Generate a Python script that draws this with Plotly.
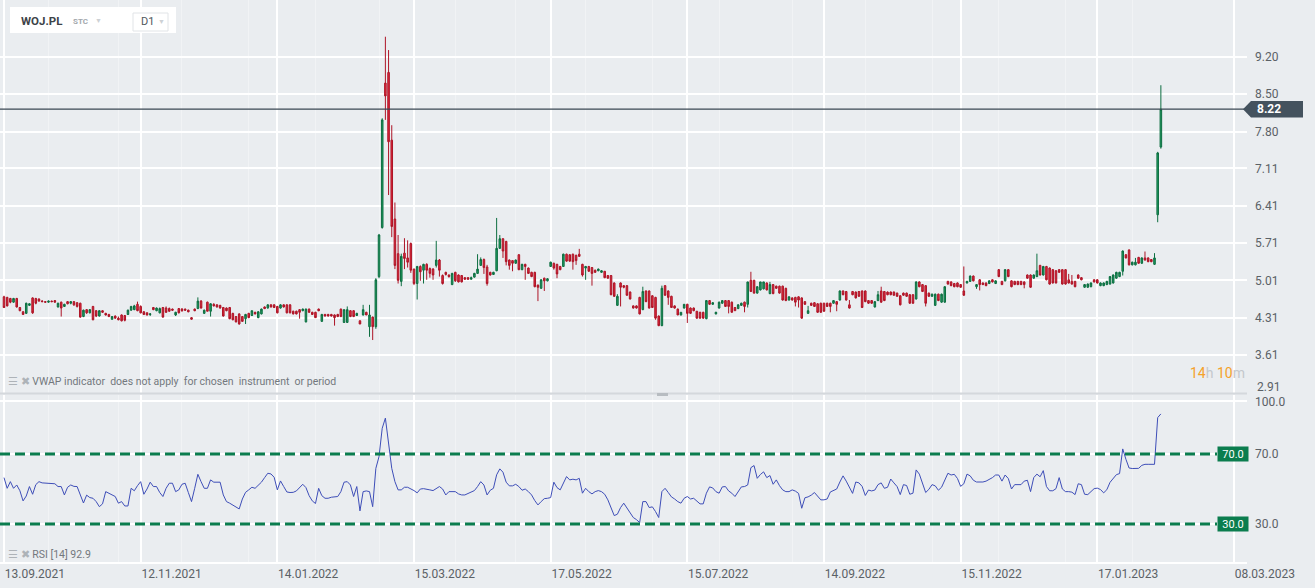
import plotly.graph_objects as go
from plotly.subplots import make_subplots

TICKER = "WOJ.PL"
LAST_PRICE = 8.22
RSI_LAST = 92.9

# daily candles, 13.09.2021 -> mid Feb 2023 (index = trading day)
OPEN = [
    4.70, 4.69, 4.67, 4.60, 4.67, 4.50, 4.42, 4.39, 4.54, 4.68,
    4.67, 4.66, 4.62, 4.61, 4.60, 4.62, 4.63, 4.51, 4.60, 4.52,
    4.61, 4.58, 4.61, 4.59, 4.58, 4.33, 4.46, 4.40, 4.52, 4.44,
    4.34, 4.44, 4.39, 4.37, 4.28, 4.34, 4.30, 4.36, 4.35, 4.37,
    4.45, 4.46, 4.56, 4.52, 4.42, 4.40, 4.37, 4.50, 4.44, 4.40,
    4.50, 4.49, 4.48, 4.47, 4.36, 4.48, 4.47, 4.47, 4.45, 4.31,
    4.47, 4.48, 4.62, 4.39, 4.60, 4.43, 4.56, 4.55, 4.54, 4.50,
    4.49, 4.50, 4.39, 4.33, 4.38, 4.33, 4.29, 4.39, 4.35, 4.41,
    4.31, 4.38, 4.51, 4.49, 4.55, 4.55, 4.52, 4.49, 4.55, 4.55,
    4.55, 4.43, 4.43, 4.46, 4.44, 4.23, 4.47, 4.41, 4.41, 4.47,
    4.24, 4.37, 4.37, 4.37, 4.36, 4.37, 4.47, 4.22, 4.22, 4.44,
    4.44, 4.35, 4.25, 4.36, 4.41, 4.14, 4.32, 4.14, 5.08, 6.00,
    8.71, 8.91, 7.64, 6.16, 5.51, 4.99, 5.52, 5.43, 5.70, 5.22,
    4.95, 5.27, 5.20, 5.31, 5.23, 5.22, 5.29, 5.39, 5.10, 5.16,
    5.11, 4.93, 5.16, 5.11, 5.10, 5.06, 5.06, 5.03, 5.07, 5.14,
    5.29, 5.40, 5.26, 5.16, 5.12, 5.19, 5.61, 5.79, 5.74, 5.39,
    5.38, 5.33, 5.49, 5.21, 5.31, 5.24, 5.16, 5.16, 4.92, 4.86,
    5.05, 5.00, 5.27, 5.33, 5.31, 5.27, 5.27, 5.50, 5.49, 5.50,
    5.48, 5.50, 5.31, 5.24, 5.27, 5.25, 5.20, 5.19, 5.16, 5.18,
    5.10, 5.10, 4.96, 4.54, 4.96, 4.91, 4.91, 4.79, 4.53, 4.53,
    4.69, 4.46, 4.81, 4.81, 4.72, 4.69, 4.34, 4.16, 4.91, 4.81,
    4.71, 4.53, 4.47, 4.36, 4.49, 4.56, 4.49, 4.49, 4.43, 4.41,
    4.41, 4.29, 4.63, 4.56, 4.38, 4.49, 4.58, 4.63, 4.63, 4.60,
    4.50, 4.48, 4.54, 4.60, 4.56, 5.01, 5.01, 4.77, 4.83, 4.85,
    4.96, 4.76, 4.93, 4.90, 4.90, 4.90, 4.86, 4.64, 4.68, 4.69,
    4.70, 4.68, 4.61, 4.39, 4.58, 4.59, 4.57, 4.58, 4.58, 4.58,
    4.58, 4.58, 4.61, 4.64, 4.81, 4.80, 4.55, 4.80, 4.79, 4.80,
    4.81, 4.81, 4.63, 4.63, 4.51, 4.63, 4.81, 4.80, 4.79, 4.79,
    4.79, 4.77, 4.72, 4.77, 4.77, 4.74, 4.74, 4.66, 4.98, 4.93,
    4.91, 4.77, 4.71, 4.54, 4.75, 4.60, 4.60, 4.99, 4.98, 4.95,
    4.96, 4.93, 4.81, 4.96, 4.99, 5.09, 4.89, 5.02, 4.96, 4.96,
    4.95, 5.02, 4.95, 5.21, 4.99, 5.00, 5.21, 5.00, 4.99, 4.99,
    4.99, 4.98, 5.11, 5.11, 5.05, 5.08, 5.29, 5.11, 5.27, 5.24,
    5.21, 5.19, 5.21, 5.21, 5.21, 5.02, 4.99, 4.99, 5.11, 5.06,
    4.88, 4.88, 4.89, 5.02, 5.02, 4.91, 4.91, 4.93, 4.94, 4.96,
    5.05, 5.08, 5.18, 5.49, 5.58, 5.30, 5.30, 5.44, 5.33, 5.43,
    5.43, 5.40, 5.31, 6.24, 7.51,
]
HIGH = [
    4.72, 4.70, 4.68, 4.68, 4.68, 4.51, 4.43, 4.59, 4.58, 4.69,
    4.68, 4.67, 4.64, 4.62, 4.63, 4.63, 4.64, 4.59, 4.61, 4.57,
    4.62, 4.62, 4.62, 4.60, 4.59, 4.46, 4.47, 4.47, 4.53, 4.45,
    4.45, 4.45, 4.40, 4.38, 4.34, 4.35, 4.33, 4.37, 4.36, 4.46,
    4.53, 4.55, 4.61, 4.54, 4.43, 4.41, 4.39, 4.51, 4.50, 4.50,
    4.51, 4.52, 4.50, 4.48, 4.42, 4.49, 4.49, 4.48, 4.46, 4.32,
    4.48, 4.69, 4.64, 4.46, 4.61, 4.58, 4.58, 4.56, 4.55, 4.51,
    4.50, 4.51, 4.40, 4.34, 4.39, 4.34, 4.38, 4.40, 4.44, 4.42,
    4.43, 4.48, 4.52, 4.56, 4.56, 4.56, 4.53, 4.56, 4.56, 4.56,
    4.56, 4.44, 4.44, 4.47, 4.48, 4.48, 4.48, 4.42, 4.42, 4.48,
    4.38, 4.38, 4.38, 4.38, 4.37, 4.38, 4.48, 4.46, 4.52, 4.45,
    4.45, 4.40, 4.26, 4.55, 4.42, 4.55, 4.33, 5.05, 5.88, 8.05,
    9.58, 9.33, 7.92, 6.47, 5.86, 5.51, 5.80, 5.76, 5.72, 5.23,
    5.28, 5.29, 5.32, 5.33, 5.25, 5.24, 5.75, 5.41, 5.12, 5.17,
    5.12, 5.15, 5.17, 5.12, 5.11, 5.07, 5.07, 5.08, 5.15, 5.50,
    5.44, 5.42, 5.30, 5.17, 5.17, 6.18, 5.86, 5.80, 5.75, 5.40,
    5.38, 5.40, 5.50, 5.32, 5.32, 5.25, 5.17, 5.17, 4.93, 5.03,
    5.06, 5.05, 5.36, 5.34, 5.32, 5.28, 5.51, 5.51, 5.50, 5.51,
    5.49, 5.60, 5.32, 5.28, 5.28, 5.26, 5.21, 5.23, 5.20, 5.18,
    5.11, 5.11, 4.97, 4.75, 4.97, 4.92, 4.92, 4.80, 4.54, 4.54,
    4.70, 4.89, 4.82, 4.82, 4.73, 4.70, 4.35, 4.91, 4.92, 4.82,
    4.72, 4.54, 4.48, 4.41, 4.56, 4.57, 4.50, 4.50, 4.43, 4.42,
    4.42, 4.64, 4.64, 4.60, 4.42, 4.61, 4.63, 4.64, 4.64, 4.61,
    4.51, 4.56, 4.59, 4.61, 4.98, 5.17, 5.02, 4.90, 4.98, 4.98,
    4.97, 4.98, 4.94, 4.91, 4.91, 4.91, 4.87, 4.71, 4.69, 4.70,
    4.71, 4.69, 4.62, 4.53, 4.59, 4.60, 4.58, 4.59, 4.59, 4.59,
    4.59, 4.63, 4.62, 4.82, 4.82, 4.81, 4.64, 4.81, 4.80, 4.81,
    4.82, 4.82, 4.64, 4.64, 4.62, 4.81, 4.89, 4.81, 4.80, 4.80,
    4.80, 4.78, 4.73, 4.78, 4.78, 4.75, 4.75, 4.99, 4.99, 4.94,
    4.92, 4.78, 4.76, 4.76, 4.76, 4.76, 4.90, 5.00, 4.99, 4.96,
    4.97, 4.94, 5.27, 5.00, 5.10, 5.10, 4.94, 5.03, 4.97, 4.97,
    5.01, 5.03, 5.01, 5.22, 5.00, 5.22, 5.22, 5.01, 5.00, 5.00,
    5.00, 4.99, 5.12, 5.12, 5.12, 5.51, 5.30, 5.28, 5.28, 5.25,
    5.22, 5.20, 5.22, 5.22, 5.22, 5.13, 5.11, 5.00, 5.12, 5.07,
    4.94, 4.95, 4.97, 5.03, 5.03, 4.97, 4.97, 5.00, 5.09, 5.12,
    5.17, 5.17, 5.57, 5.50, 5.59, 5.36, 5.43, 5.45, 5.44, 5.55,
    5.44, 5.41, 5.52, 7.42, 8.67,
]
LOW = [
    4.49, 4.52, 4.58, 4.59, 4.50, 4.43, 4.36, 4.38, 4.53, 4.38,
    4.56, 4.61, 4.60, 4.59, 4.59, 4.60, 4.59, 4.50, 4.33, 4.51,
    4.56, 4.56, 4.53, 4.50, 4.31, 4.32, 4.38, 4.39, 4.26, 4.32,
    4.33, 4.40, 4.35, 4.32, 4.27, 4.29, 4.26, 4.24, 4.24, 4.36,
    4.44, 4.45, 4.43, 4.39, 4.36, 4.35, 4.34, 4.45, 4.43, 4.39,
    4.31, 4.40, 4.42, 4.44, 4.34, 4.39, 4.42, 4.44, 4.41, 4.27,
    4.43, 4.47, 4.48, 4.38, 4.43, 4.33, 4.52, 4.50, 4.48, 4.33,
    4.43, 4.28, 4.26, 4.22, 4.18, 4.23, 4.19, 4.30, 4.34, 4.37,
    4.30, 4.37, 4.47, 4.48, 4.50, 4.49, 4.39, 4.48, 4.50, 4.39,
    4.39, 4.37, 4.37, 4.29, 4.43, 4.22, 4.40, 4.36, 4.31, 4.43,
    4.23, 4.33, 4.33, 4.33, 4.16, 4.32, 4.32, 4.21, 4.21, 4.32,
    4.32, 4.34, 4.19, 4.35, 4.36, 3.95, 3.89, 4.10, 5.05, 5.98,
    8.02, 6.61, 5.82, 5.22, 4.95, 4.90, 5.22, 5.25, 5.15, 4.92,
    4.65, 5.00, 4.95, 5.02, 5.06, 5.02, 5.25, 5.08, 4.93, 5.10,
    5.06, 4.92, 4.98, 4.97, 4.97, 5.02, 5.02, 5.03, 5.06, 5.13,
    5.28, 5.13, 4.91, 5.10, 5.11, 5.18, 5.60, 5.43, 5.29, 5.21,
    5.18, 5.32, 5.20, 5.20, 5.02, 5.13, 5.07, 4.88, 4.62, 4.85,
    4.81, 4.99, 5.26, 5.21, 5.05, 5.20, 5.26, 5.36, 5.36, 5.21,
    5.30, 5.45, 5.08, 5.02, 5.17, 4.91, 5.15, 5.18, 5.15, 5.05,
    5.04, 4.73, 4.70, 4.53, 4.52, 4.86, 4.72, 4.65, 4.48, 4.48,
    4.37, 4.45, 4.60, 4.48, 4.49, 4.27, 4.15, 4.15, 4.72, 4.55,
    4.50, 4.48, 4.36, 4.35, 4.48, 4.21, 4.38, 4.43, 4.29, 4.29,
    4.29, 4.28, 4.55, 4.55, 4.37, 4.48, 4.57, 4.51, 4.39, 4.41,
    4.44, 4.47, 4.53, 4.41, 4.50, 4.79, 4.76, 4.76, 4.82, 4.84,
    4.82, 4.75, 4.75, 4.85, 4.76, 4.63, 4.62, 4.63, 4.63, 4.52,
    4.50, 4.29, 4.55, 4.38, 4.53, 4.51, 4.40, 4.40, 4.42, 4.51,
    4.41, 4.57, 4.43, 4.63, 4.73, 4.63, 4.48, 4.73, 4.67, 4.70,
    4.49, 4.60, 4.57, 4.57, 4.50, 4.62, 4.59, 4.62, 4.73, 4.73,
    4.72, 4.70, 4.54, 4.72, 4.70, 4.57, 4.57, 4.65, 4.88, 4.79,
    4.52, 4.70, 4.70, 4.53, 4.62, 4.59, 4.59, 4.93, 4.90, 4.88,
    4.88, 4.87, 4.72, 4.95, 4.98, 4.99, 4.85, 4.82, 4.92, 4.90,
    4.94, 4.97, 4.94, 5.07, 4.92, 4.99, 5.07, 4.88, 4.92, 4.92,
    4.92, 4.86, 5.04, 4.87, 5.04, 5.07, 5.10, 5.10, 5.01, 4.93,
    4.95, 4.95, 5.15, 4.93, 4.93, 4.95, 4.93, 4.88, 5.04, 5.01,
    4.87, 4.87, 4.88, 4.97, 4.95, 4.90, 4.90, 4.92, 4.93, 4.95,
    5.04, 5.07, 5.10, 5.42, 5.29, 5.29, 5.29, 5.32, 5.32, 5.38,
    5.35, 5.35, 5.30, 6.10, 7.48,
]
CLOSE = [
    4.50, 4.53, 4.60, 4.67, 4.51, 4.44, 4.37, 4.58, 4.57, 4.40,
    4.58, 4.62, 4.61, 4.60, 4.62, 4.61, 4.60, 4.58, 4.49, 4.56,
    4.57, 4.61, 4.55, 4.52, 4.32, 4.45, 4.40, 4.46, 4.27, 4.34,
    4.44, 4.41, 4.36, 4.33, 4.33, 4.30, 4.27, 4.25, 4.26, 4.45,
    4.52, 4.53, 4.44, 4.40, 4.37, 4.36, 4.38, 4.46, 4.49, 4.48,
    4.32, 4.41, 4.43, 4.45, 4.41, 4.40, 4.44, 4.45, 4.42, 4.28,
    4.44, 4.62, 4.49, 4.45, 4.43, 4.57, 4.53, 4.51, 4.49, 4.34,
    4.44, 4.29, 4.27, 4.23, 4.19, 4.24, 4.37, 4.31, 4.44, 4.38,
    4.42, 4.47, 4.48, 4.55, 4.51, 4.50, 4.40, 4.55, 4.51, 4.40,
    4.40, 4.38, 4.38, 4.41, 4.47, 4.47, 4.41, 4.37, 4.31, 4.44,
    4.37, 4.34, 4.34, 4.34, 4.31, 4.33, 4.33, 4.46, 4.46, 4.33,
    4.33, 4.39, 4.19, 4.46, 4.36, 4.36, 4.14, 5.02, 5.86, 8.02,
    8.47, 7.61, 6.02, 5.29, 5.01, 5.46, 5.42, 5.35, 5.20, 4.95,
    5.27, 5.17, 5.31, 5.20, 5.14, 5.11, 5.39, 5.20, 4.95, 5.12,
    5.08, 5.14, 5.00, 4.98, 4.98, 5.03, 5.03, 5.06, 5.14, 5.22,
    5.40, 5.25, 4.95, 5.11, 5.16, 5.61, 5.79, 5.56, 5.36, 5.29,
    5.33, 5.39, 5.21, 5.31, 5.27, 5.14, 5.08, 4.89, 4.88, 5.02,
    5.00, 5.04, 5.35, 5.24, 5.13, 5.21, 5.50, 5.37, 5.37, 5.36,
    5.38, 5.46, 5.11, 5.27, 5.18, 5.14, 5.16, 5.22, 5.19, 5.06,
    5.05, 4.74, 4.71, 4.71, 4.88, 4.88, 4.73, 4.66, 4.49, 4.49,
    4.38, 4.80, 4.61, 4.49, 4.50, 4.30, 4.16, 4.86, 4.73, 4.69,
    4.50, 4.49, 4.36, 4.41, 4.56, 4.39, 4.39, 4.44, 4.30, 4.30,
    4.30, 4.63, 4.56, 4.59, 4.41, 4.60, 4.63, 4.52, 4.52, 4.41,
    4.44, 4.55, 4.58, 4.52, 4.98, 4.80, 4.77, 4.89, 4.98, 4.98,
    4.83, 4.93, 4.76, 4.86, 4.77, 4.64, 4.63, 4.70, 4.64, 4.60,
    4.64, 4.30, 4.56, 4.44, 4.54, 4.52, 4.41, 4.41, 4.43, 4.52,
    4.52, 4.63, 4.56, 4.81, 4.74, 4.64, 4.49, 4.74, 4.68, 4.71,
    4.50, 4.61, 4.58, 4.58, 4.61, 4.74, 4.60, 4.63, 4.74, 4.74,
    4.73, 4.71, 4.55, 4.73, 4.71, 4.58, 4.58, 4.98, 4.89, 4.80,
    4.58, 4.71, 4.75, 4.75, 4.63, 4.75, 4.89, 4.94, 4.91, 4.89,
    4.89, 4.88, 4.73, 4.99, 5.09, 5.00, 4.93, 4.93, 4.93, 4.91,
    5.00, 4.98, 5.00, 5.08, 4.93, 5.21, 5.08, 4.89, 4.93, 4.93,
    4.93, 4.93, 5.05, 4.88, 5.11, 5.19, 5.11, 5.27, 5.02, 4.94,
    4.96, 4.96, 5.16, 4.94, 4.94, 4.96, 4.94, 4.89, 5.05, 5.02,
    4.93, 4.94, 4.96, 4.98, 4.96, 4.96, 4.96, 4.99, 5.08, 5.11,
    5.16, 5.16, 5.56, 5.43, 5.30, 5.35, 5.35, 5.33, 5.43, 5.39,
    5.36, 5.36, 5.43, 7.40, 8.22,
]
RSI = [
    56.5, 50.4, 54.2, 50.4, 52.3, 49.0, 43.2, 46.0, 51.4, 47.0,
    52.5, 54.2, 53.5, 53.3, 53.3, 53.3, 53.0, 51.4, 51.4, 46.6,
    51.0, 52.3, 51.5, 51.4, 46.6, 42.0, 46.5, 45.1, 44.7, 42.8,
    39.9, 41.5, 48.5, 47.5, 46.5, 45.7, 41.9, 42.8, 40.3, 40.3,
    50.4, 49.0, 51.9, 54.2, 47.0, 50.0, 53.9, 51.4, 51.4, 48.0,
    45.7, 50.4, 53.3, 53.3, 48.5, 49.5, 52.7, 53.3, 48.0, 42.8,
    50.4, 58.4, 54.2, 50.4, 50.4, 55.2, 53.9, 53.9, 53.9, 46.6,
    42.8, 41.9, 40.9, 39.6, 38.6, 44.3, 48.1, 49.5, 51.0, 50.4,
    51.9, 53.9, 56.5, 59.0, 58.6, 56.7, 49.5, 54.6, 51.4, 48.3,
    48.0, 48.1, 48.9, 50.8, 52.7, 50.8, 46.2, 43.2, 41.7, 50.4,
    46.2, 44.7, 44.7, 45.3, 45.7, 45.7, 48.5, 53.9, 54.2, 52.3,
    45.7, 51.4, 37.5, 48.5, 48.9, 48.5, 39.9, 61.8, 68.5, 84.7,
    90.5, 75.2, 61.8, 54.2, 49.5, 49.5, 51.0, 51.0, 50.2, 49.1,
    47.8, 50.0, 50.2, 50.0, 49.5, 49.1, 50.4, 51.4, 50.0, 46.6,
    48.5, 48.7, 48.5, 47.2, 46.6, 46.6, 47.4, 48.1, 49.1, 51.4,
    54.2, 52.3, 46.6, 49.3, 50.4, 58.1, 61.5, 59.6, 53.9, 51.8,
    51.8, 52.7, 51.4, 49.3, 50.0, 48.5, 46.6, 43.4, 40.9, 42.8,
    44.5, 44.7, 45.1, 53.9, 50.8, 49.5, 53.3, 57.1, 55.2, 55.6,
    55.2, 56.1, 47.6, 50.4, 48.5, 47.2, 48.5, 49.1, 48.5, 47.0,
    43.8, 39.0, 34.8, 35.6, 39.4, 41.9, 39.4, 36.7, 33.7, 32.5,
    30.8, 42.8, 42.8, 39.4, 39.8, 37.1, 33.7, 48.5, 50.4, 48.0,
    45.5, 44.3, 42.8, 41.9, 44.7, 45.7, 44.3, 44.7, 42.8, 41.5,
    41.5, 47.6, 51.2, 50.6, 48.5, 47.6, 51.2, 51.4, 48.9, 47.6,
    45.7, 48.5, 51.2, 51.4, 52.3, 62.2, 63.4, 56.1, 58.3, 59.8,
    56.5, 57.7, 52.7, 55.2, 51.9, 49.5, 48.5, 48.5, 49.5, 48.8,
    47.5, 39.0, 45.0, 45.5, 46.5, 48.0, 46.0, 43.8, 43.8, 44.3,
    48.3, 49.0, 50.0, 54.0, 57.5, 54.5, 51.0, 47.5, 54.0, 53.5,
    51.5, 46.3, 49.4, 48.9, 49.4, 52.5, 53.5, 50.4, 51.0, 55.7,
    53.5, 51.4, 46.8, 52.5, 52.0, 47.0, 47.6, 60.9, 58.5, 53.0,
    48.0, 49.8, 52.5, 51.8, 49.3, 51.0, 55.5, 59.0, 58.0, 58.4,
    56.0, 51.5, 53.0, 58.5, 57.5, 55.0, 54.0, 54.0, 54.0, 54.5,
    55.5, 56.5, 58.0, 58.0, 54.5, 58.0, 56.0, 50.0, 52.5, 52.7,
    52.5, 54.5, 55.0, 48.5, 56.5, 58.5, 57.0, 60.5, 51.4, 49.0,
    49.0, 50.2, 56.5, 50.0, 48.5, 48.5, 48.2, 46.8, 53.0, 52.5,
    47.0, 46.8, 48.5, 50.2, 50.5, 49.7, 47.8, 49.6, 53.8, 56.0,
    58.2, 58.8, 72.9, 67.0, 62.0, 61.7, 61.6, 61.8, 63.5, 64.1,
    64.1, 64.1, 64.1, 90.8, 92.9,
]

X_TICK_POS = [0, 43, 86, 129, 172, 215, 258, 301, 344, 387]
X_TICK_TEXT = ["13.09.2021", "12.11.2021", "14.01.2022", "15.03.2022", "17.05.2022",
               "15.07.2022", "14.09.2022", "15.11.2022", "17.01.2023", "08.03.2023"]
MONTH_START_POS = [14, 36, 56, 77, 98, 118, 142, 161, 183, 204, 225, 248, 271, 292, 313, 334, 355]
PRICE_TICKS = [9.20, 8.50, 7.80, 7.11, 6.41, 5.71, 5.01, 4.31, 3.61, 2.91]
RSI_TICKS = [30, 70, 100]
RSI_LEVELS = [30, 70]

assert len(OPEN) == len(HIGH) == len(LOW) == len(CLOSE) == len(RSI)

# plot area in pixels (margin l=0, t=0)
PLOT_W, PLOT_H = 1247, 562

BG = "#eaedf0"
GRID = "#ffffff"
TEXT = "#5b6166"
UP_FILL, UP_LINE = "#1f9d60", "#0d6e41"
DN_FILL, DN_LINE = "#e2283c", "#ad1527"
LEVEL_GREEN = "#0b7d4e"
FONT = "Roboto, 'Open Sans', sans-serif"


def fx(px):
    return px / PLOT_W


def fy(py):
    return (PLOT_H - py) / PLOT_H


idx = list(range(len(CLOSE)))

fig = make_subplots(rows=2, cols=1, shared_xaxes=True, vertical_spacing=0)

fig.add_trace(
    go.Candlestick(
        x=idx, open=OPEN, high=HIGH, low=LOW, close=CLOSE,
        increasing=dict(fillcolor=UP_FILL, line=dict(color=UP_LINE, width=1)),
        decreasing=dict(fillcolor=DN_FILL, line=dict(color=DN_LINE, width=1)),
        whiskerwidth=0, showlegend=False, hoverinfo="skip",
    ),
    row=1, col=1,
)
fig.add_trace(
    go.Scatter(x=idx, y=RSI, mode="lines", line=dict(color="#3e4eb8", width=1),
               showlegend=False, hoverinfo="skip"),
    row=2, col=1,
)

x_common = dict(
    range=[-1.26, 391.1], tickmode="array", tickvals=X_TICK_POS, ticktext=X_TICK_TEXT,
    showgrid=True, gridcolor=GRID, gridwidth=1.5, zeroline=False,
    minor=dict(tickmode="array", tickvals=MONTH_START_POS, showgrid=True,
               gridcolor="#f1f3f5", gridwidth=1),
)
fig.update_xaxes(**x_common)
fig.update_xaxes(showticklabels=False, rangeslider_visible=False, row=1, col=1)
fig.update_xaxes(
    ticklabelposition="outside right", tickfont=dict(size=12, color=TEXT),
    showline=True, linecolor=GRID, linewidth=1.5, row=2, col=1,
)

# lowest price label sits just above its gridline (drawn as annotation below)
price_ticktext = [f"{v:.2f}" for v in PRICE_TICKS[:-1]] + [""]
fig.update_yaxes(
    side="right", tickmode="array", tickvals=PRICE_TICKS, ticktext=price_ticktext,
    range=[2.896, 10.269], domain=[fy(393), 1.0],
    showgrid=True, gridcolor=GRID, gridwidth=1.5, zeroline=False,
    tickfont=dict(size=12, color=TEXT), ticklabelstandoff=7,
    row=1, col=1,
)
fig.update_yaxes(
    side="right", tickmode="array", tickvals=RSI_TICKS,
    ticktext=[f"{v:.1f}" for v in RSI_TICKS],
    range=[8.29, 103.71], domain=[0.0, fy(395)],
    showgrid=True, gridcolor=GRID, gridwidth=1.5, zeroline=False,
    tickfont=dict(size=12, color=TEXT), ticklabelstandoff=7,
    row=2, col=1,
)

shapes = []
# RSI overbought / oversold levels
for lvl in RSI_LEVELS:
    shapes.append(dict(type="line", xref="paper", yref="y2", x0=0, x1=fx(1217),
                       y0=lvl, y1=lvl, layer="above",
                       line=dict(color=LEVEL_GREEN, width=3, dash="10px,5px")))
# last price line + tag
shapes.append(dict(type="line", xref="paper", yref="y", x0=0, x1=1,
                   y0=LAST_PRICE, y1=LAST_PRICE, layer="above",
                   line=dict(color="#3a4753", width=1.2)))
tag_h = 0.155
shapes.append(dict(
    type="path", xref="paper", yref="y", layer="above", fillcolor="#44525e", line_width=0,
    path=(f"M {fx(1243)},{LAST_PRICE} L {fx(1251)},{LAST_PRICE + tag_h} "
          f"L {fx(1303)},{LAST_PRICE + tag_h} L {fx(1303)},{LAST_PRICE - tag_h} "
          f"L {fx(1251)},{LAST_PRICE - tag_h} Z"),
))
# panel separator + handle
shapes.append(dict(type="line", xref="paper", yref="paper", x0=0, x1=1,
                   y0=fy(393.5), y1=fy(393.5), line=dict(color="#d4d8dc", width=2)))
shapes.append(dict(type="rect", xref="paper", yref="paper", x0=fx(657), x1=fx(668),
                   y0=fy(396), y1=fy(393), fillcolor="#b7bcc1", line_width=0))
# instrument header
shapes.append(dict(type="rect", xref="paper", yref="paper", x0=fx(10), x1=fx(176),
                   y0=fy(33), y1=fy(7), fillcolor="white", line_width=0, layer="above"))
shapes.append(dict(type="rect", xref="paper", yref="paper", x0=fx(133), x1=fx(168),
                   y0=fy(31), y1=fy(13), fillcolor="white",
                   line=dict(color="#e1e4e7", width=1), layer="above"))

icons = "<span style='color:#aeb3b8'>☰ ✖</span>"
ann = [
    dict(x=fx(19), y=fy(21), text=f"<b>{TICKER}</b>", font=dict(size=11.5, color="#3d4348")),
    dict(x=fx(71), y=fy(21), text="<b>STC</b>", font=dict(size=8, color="#a3a8ad")),
    dict(x=fx(93), y=fy(21), text="▼", font=dict(size=7, color="#cdd1d5")),
    dict(x=fx(139), y=fy(22), text="D1", font=dict(size=11, color="#50565c")),
    dict(x=fx(156), y=fy(22), text="▼", font=dict(size=7, color="#cdd1d5")),
    dict(x=fx(6), y=fy(382),
         text=f"{icons} VWAP indicator  does not apply  for chosen  instrument  or period",
         font=dict(size=10.5, color="#73787d")),
    dict(x=fx(6), y=fy(554), text=f"{icons} RSI [14] {RSI_LAST}",
         font=dict(size=10.5, color="#73787d")),
    dict(x=1.0, y=fy(373), xanchor="right",
         text=("<span style='color:#f5a12a'>14</span><span style='color:#c4c8cc'>h</span> "
               "<span style='color:#f5a12a'>10</span><span style='color:#c4c8cc'>m</span>"),
         font=dict(size=14)),
    dict(x=fx(1255), y=LAST_PRICE, yref="y", text=f"<b>{LAST_PRICE:.2f}</b>",
         font=dict(size=12, color="white")),
    dict(x=fx(1255), y=fy(387), text=f"{PRICE_TICKS[-1]:.2f}", font=dict(size=12, color=TEXT)),
]
for lvl in RSI_LEVELS:
    ann.append(dict(x=fx(1217), y=lvl, yref="y2", text=f"{lvl:.1f}",
                    width=30, height=14, bgcolor=LEVEL_GREEN, borderpad=0,
                    font=dict(size=11, color="white")))
for a in ann:
    a.setdefault("xref", "paper")
    a.setdefault("yref", "paper")
    a.setdefault("xanchor", "left")
    a.setdefault("yanchor", "middle")
    a["showarrow"] = False

fig.update_layout(
    width=1315, height=588,
    margin=dict(l=0, r=68, t=0, b=26),
    plot_bgcolor=BG, paper_bgcolor=BG,
    font=dict(family=FONT, size=12, color=TEXT),
    showlegend=False, hovermode=False,
    shapes=shapes, annotations=ann,
)

# page has a default 8px body margin; drop it so the figure fills the window
fig.write_html("out.html", config={"displayModeBar": False},
               post_script="document.body.style.margin='0';")
